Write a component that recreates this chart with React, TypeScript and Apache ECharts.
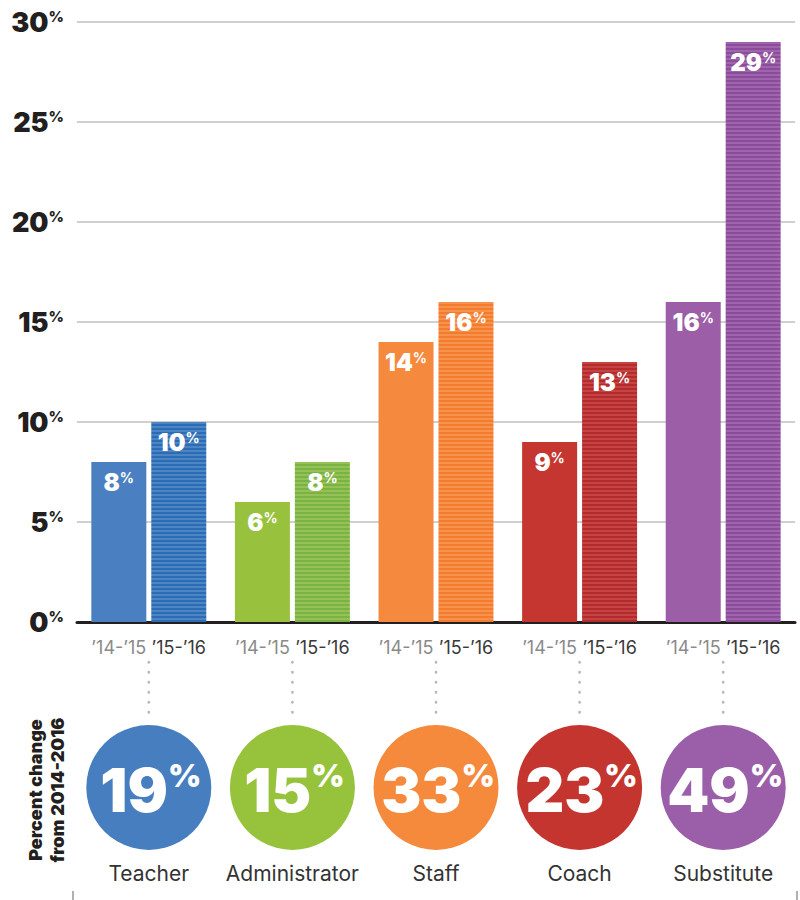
import React, { useEffect, useRef } from 'react';
import * as echarts from 'echarts';

const categories = ['Teacher', 'Administrator', 'Staff', 'Coach', 'Substitute'];
const yearLabels = ['’14-’15', '’15-’16'];
const values1415 = [8, 6, 14, 9, 16];
const values1516 = [10, 8, 16, 13, 29];
const changes = [19, 15, 33, 23, 49];
const yMin = 0;
const yMax = 30;
const yStep = 5;

const colors1415 = ['#4a7fc1', '#98c23d', '#f58a3e', '#c4362f', '#9b5ea7'];
const stripeDark = ['#2b6cb4', '#78b344', '#f37b2d', '#b32b2b', '#8b4d9b'];
const stripeLight = ['#4c84c4', '#96c154', '#f6924b', '#c54343', '#a064ac'];
const circleColors = ['#477ebf', '#97c23c', '#f5893c', '#c43530', '#9b5ea8'];

const HEAVY = 'Inter, Lato, "DejaVu Sans", sans-serif';
const BOOK = 'Inter, Lato, "Noto Sans", sans-serif';

function makeStripe(dark: string, light: string) {
  const c = document.createElement('canvas');
  c.width = 4;
  c.height = 4;
  const ctx = c.getContext('2d')!;
  ctx.fillStyle = dark;
  ctx.fillRect(0, 0, 4, 2);
  ctx.fillStyle = light;
  ctx.fillRect(0, 2, 4, 2);
  return { image: c, repeat: 'repeat', imageWidth: 4, imageHeight: 4 } as any;
}

export default function App() {
  const ref = useRef<HTMLDivElement>(null);
  useEffect(() => {
    if (!ref.current) return;
    const chart = echarts.init(ref.current, null, { renderer: 'svg' });
    const barLabel = {
      show: true,
      position: 'insideTop',
      distance: 8,
      formatter: '{n|{c}}{p|%}',
      rich: {
        n: { fontFamily: HEAVY, fontSize: 24, fontWeight: 900, color: '#fff', lineHeight: 24 },
        p: { fontFamily: HEAVY, fontSize: 14, fontWeight: 700, color: '#fff', verticalAlign: 'top', lineHeight: 15 },
      },
    };
    const option: any = {
      animation: false,
      grid: [
        { left: 77, right: 5, top: 22, bottom: 278, containLabel: false, outerBoundsMode: 'none' },
        { left: 77, right: 5, top: 725, bottom: 50, containLabel: false, outerBoundsMode: 'none' },
      ],
      xAxis: [
        {
          type: 'category',
          gridIndex: 0,
          data: categories,
          axisLine: { lineStyle: { color: '#231f20', width: 3 } },
          axisTick: { show: false },
          axisLabel: {
            interval: 0,
            margin: 16,
            formatter: () => `{a|${yearLabels[0]}}{g|}{b|${yearLabels[1]}}`,
            rich: {
              a: { width: 55, align: 'center', color: '#8a8a8a', fontSize: 18, fontFamily: BOOK },
              g: { width: 5 },
              b: { width: 55, align: 'center', color: '#3a3a3a', fontSize: 18, fontFamily: BOOK },
            },
          },
        },
        {
          type: 'category',
          gridIndex: 1,
          data: categories,
          axisLine: { show: false },
          axisTick: { show: false },
          axisLabel: { interval: 0, margin: 13, color: '#333333', fontSize: 21, fontFamily: BOOK },
        },
      ],
      yAxis: [
        {
          type: 'value',
          gridIndex: 0,
          min: yMin,
          max: yMax,
          interval: yStep,
          axisLine: { show: false },
          axisTick: { show: false },
          splitLine: { lineStyle: { color: '#d0d0d0', width: 2 } },
          axisLabel: {
            margin: 13,
            formatter: '{n|{value}}{p|%}',
            rich: {
              n: { fontFamily: HEAVY, fontSize: 27, fontWeight: 900, color: '#231f20', lineHeight: 27 },
              p: { fontFamily: HEAVY, fontSize: 15, fontWeight: 800, color: '#231f20', verticalAlign: 'top', lineHeight: 16 },
            },
          },
        },
        { type: 'value', gridIndex: 1, min: 0, max: 1, show: false },
      ],
      series: [
        {
          name: yearLabels[0],
          type: 'bar',
          xAxisIndex: 0,
          yAxisIndex: 0,
          barWidth: 55,
          barGap: '9%',
          silent: true,
          data: values1415.map((v, i) => ({ value: v, itemStyle: { color: colors1415[i] } })),
          label: barLabel,
        },
        {
          name: yearLabels[1],
          type: 'bar',
          xAxisIndex: 0,
          yAxisIndex: 0,
          barWidth: 55,
          barGap: '9%',
          silent: true,
          data: values1516.map((v, i) => ({ value: v, itemStyle: { color: makeStripe(stripeDark[i], stripeLight[i]) } })),
          label: barLabel,
        },
        {
          type: 'custom',
          xAxisIndex: 1,
          yAxisIndex: 1,
          clip: false,
          silent: true,
          data: categories.map((_, i) => [i, 1]),
          renderItem: (params: any, api: any) => {
            const p = api.coord([api.value(0), api.value(1)]);
            return {
              type: 'line',
              shape: { x1: p[0], y1: p[1] - 63, x2: p[0], y2: p[1] - 12.5 },
              style: { stroke: '#b8b8b8', lineWidth: 2.6, lineDash: [0.5, 9.5], lineCap: 'round' },
            };
          },
        },
        {
          type: 'scatter',
          xAxisIndex: 1,
          yAxisIndex: 1,
          symbol: 'circle',
          symbolSize: 125,
          silent: true,
          data: changes.map((c, i) => ({ value: [i, 0.5], itemStyle: { color: circleColors[i], opacity: 1 } })),
          label: {
            show: true,
            position: 'inside',
            offset: [2, 2],
            formatter: (p: any) => `{n|${changes[p.dataIndex]}}{p|%}`,
            rich: {
              n: { fontFamily: HEAVY, fontSize: 60, fontWeight: 900, color: '#fff', lineHeight: 60 },
              p: { fontFamily: HEAVY, fontSize: 32, fontWeight: 900, color: '#fff', verticalAlign: 'top', lineHeight: 34 },
            },
          },
        },
      ],
      graphic: [
        {
          type: 'text',
          x: 46,
          y: 790,
          rotation: Math.PI / 2,
          style: {
            text: 'Percent change\nfrom 2014-2016',
            fontFamily: HEAVY,
            fontSize: 18,
            fontWeight: 900,
            lineHeight: 22,
            fill: '#231f20',
            align: 'center',
            verticalAlign: 'middle',
          },
        },
        { type: 'rect', shape: { x: 72, y: 891, width: 2, height: 9 }, style: { fill: '#b0b0b0' } },
        { type: 'rect', shape: { x: 796, y: 891, width: 2, height: 9 }, style: { fill: '#b0b0b0' } },
      ],
    };
    chart.setOption(option);
    return () => chart.dispose();
  }, []);
  return <div ref={ref} style={{ position: 'absolute', left: 0, top: 0, width: 800, height: 900 }} />;
}
